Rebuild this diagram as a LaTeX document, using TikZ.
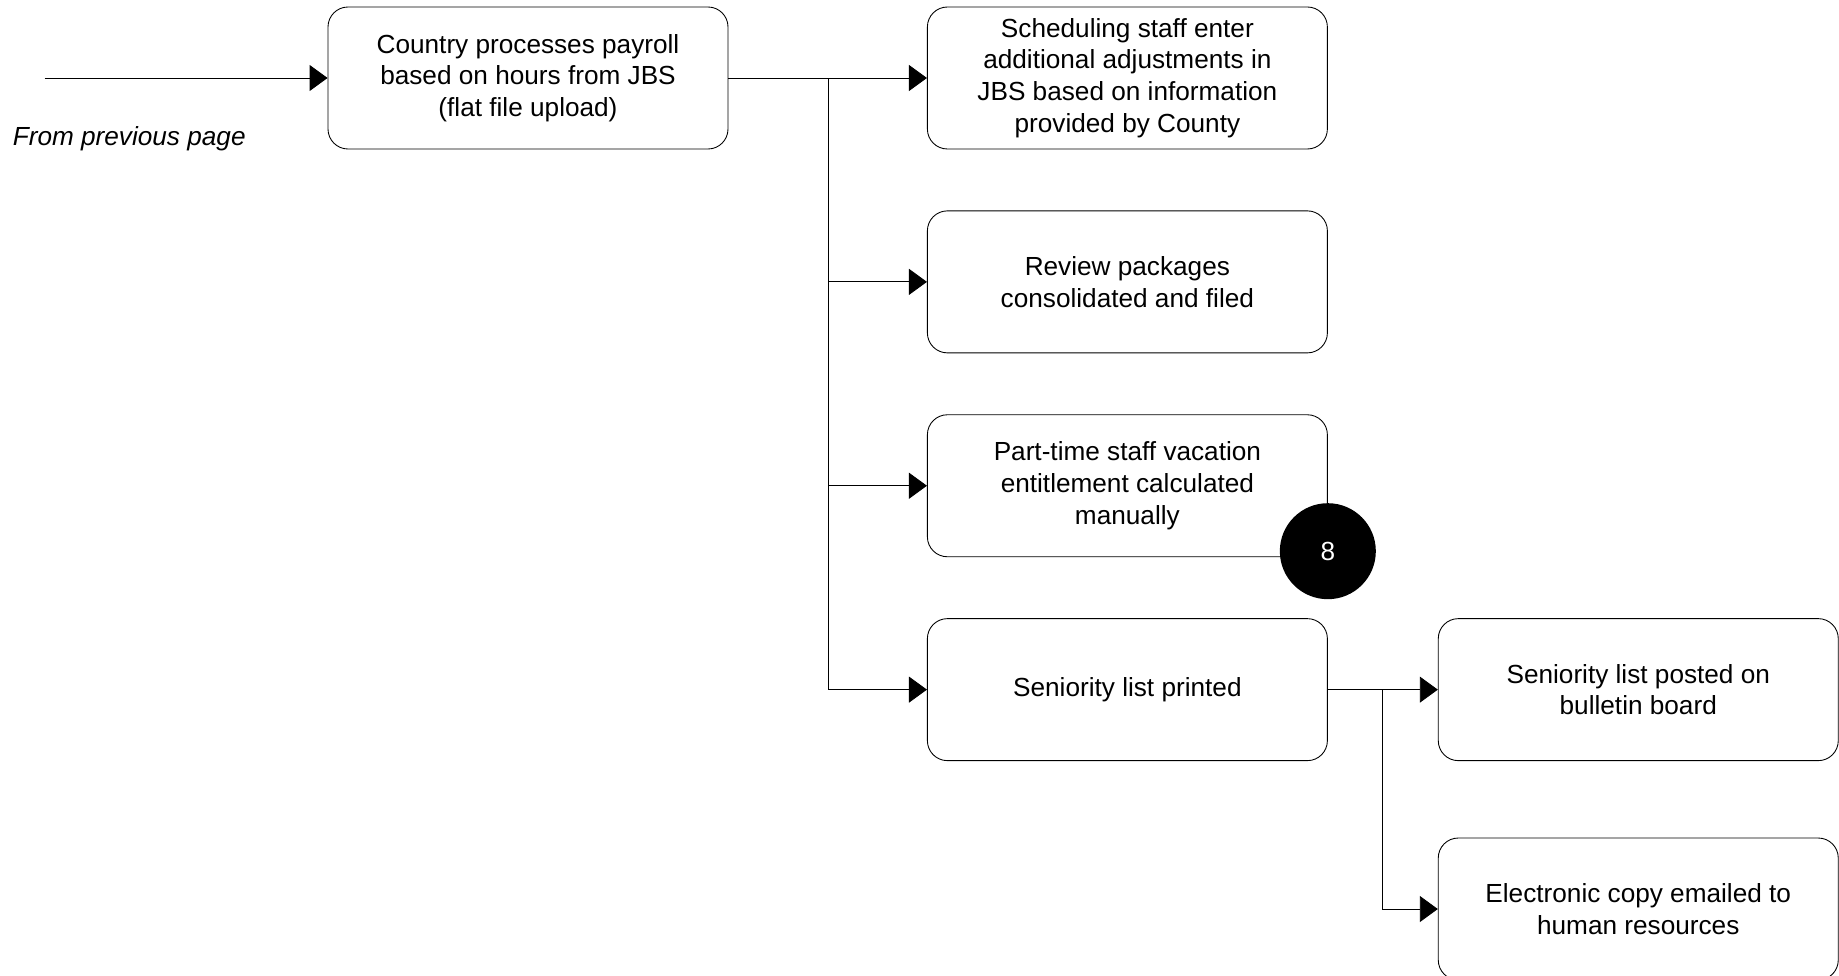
\documentclass[tikz,border=0pt]{standalone}
\usepackage{fontspec}
\setmainfont{Liberation Sans}
\usetikzlibrary{positioning,arrows.meta}

\begin{document}
\begin{tikzpicture}[>={Triangle[length=3.6mm,width=5.2mm]},line width=0.5pt,node distance=1.22cm and 3.97cm,
  box/.style={draw,rounded corners=4mm,minimum width=8cm,minimum height=2.84cm,align=center,font=\fontsize{14.9}{18}\selectfont}]
\useasboundingbox (0,0) rectangle (36.78,-19.52);
\node (pay) [box] at (10.56,-1.56) {Country processes payroll\\based on hours from JBS\\(flat file upload)};
\node (adj) [box,right=of pay] {Scheduling staff enter\\additional adjustments in\\JBS based on information\\provided by County};
\node (rev) [box,below=of adj] {Review packages\\consolidated and filed};
\node (vac) [box,below=of rev] {Part-time staff vacation\\entitlement calculated\\manually};
\node (sen) [box,below=of vac] {Seniority list printed};
\node (post) [box,right=2.2cm of sen] {Seniority list posted on\\bulletin board};
\node (mail) [box,below=1.53cm of post] {Electronic copy emailed to\\human resources};
\node (n8) [circle,fill=black,text=white,minimum size=1.92cm,font=\fontsize{14.9}{18}\selectfont] at ([yshift=1.2mm]vac.south east) {8};
\node (prev) [anchor=west,font=\fontsize{14.9}{18}\selectfont\itshape] at (0.13,-2.77) {From previous page};
\coordinate (in) at (0.89,-1.56);
\draw[->] (in) -- (pay);
\draw[->] (pay) -- (adj);
\foreach \t in {rev,vac,sen} \draw[->] (pay.east) -- ++(1.99cm,0) |- (\t);
\draw[->] (sen) -- (post);
\draw[->] (sen.east) -- ++(1.1cm,0) |- (mail);
\end{tikzpicture}
\end{document}
